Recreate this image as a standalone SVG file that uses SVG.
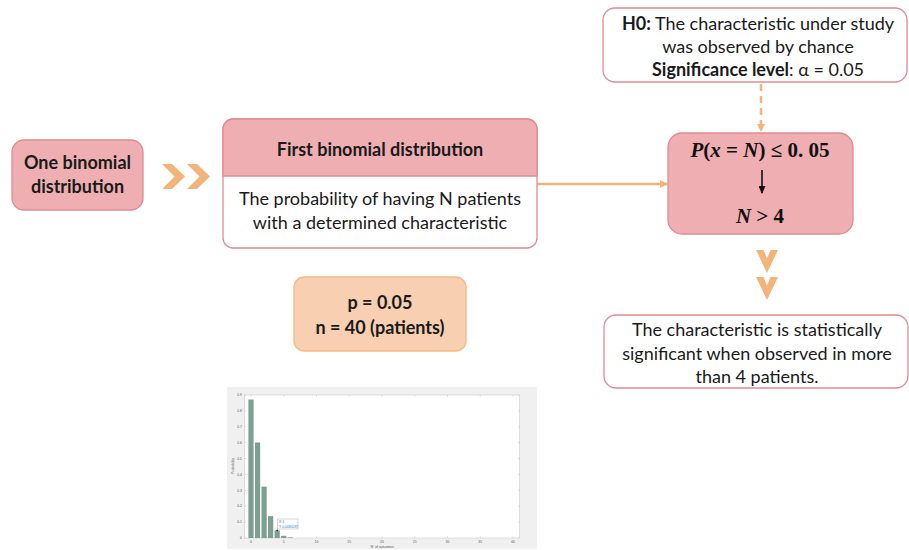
<svg xmlns="http://www.w3.org/2000/svg" width="909" height="550" viewBox="0 0 909 550">
  <defs>
    <style>
      .t { font-family: Lato, "Open Sans", "Liberation Sans", sans-serif; font-size: 18px; fill: #1a1a1a; text-anchor: middle; }
      .b { font-weight: bold; }
      .pink { fill: #EFAEB2; stroke: #E28A91; stroke-width: 1.3; }
      .white { fill: #ffffff; stroke: #E28A91; stroke-width: 1.3; }
      .peach { fill: #F8CFB0; stroke: #F4B984; stroke-width: 1.3; }
      .chev { fill: #F3B47B; }
      .math { font-family: "Liberation Serif", "DejaVu Serif", serif; font-size: 21px; font-weight: bold; fill: #111; text-anchor: middle; }
      .tick { font-family: "Liberation Sans", Arial, sans-serif; font-size: 3.4px; fill: #555; }
      .ax { stroke: #b5b5b5; stroke-width: 0.5; fill: none; }
      .bar { fill: #7D9F91; }
    </style>
    <marker id="arrOrange" markerWidth="8" markerHeight="8" refX="7" refY="4" orient="auto" markerUnits="userSpaceOnUse">
      <path d="M0,0 L8,4 L0,8 Z" fill="#F3B47B"/>
    </marker>
    <marker id="arrBlack" markerWidth="7" markerHeight="8" refX="3.5" refY="7" orient="0" markerUnits="userSpaceOnUse">
      <path d="M0,0 L7,0 L3.5,8 Z" fill="#111"/>
    </marker>
  </defs>

  <rect width="909" height="550" fill="#ffffff"/>

  <!-- connectors -->
  <g id="connectors">
    <line x1="537" y1="184" x2="667" y2="184" stroke="#F3B47B" stroke-width="2.5" marker-end="url(#arrOrange)"/>
    <line x1="761" y1="84" x2="761" y2="131" stroke="#F3B47B" stroke-width="2.5" stroke-dasharray="7 5" marker-end="url(#arrOrange)"/>
    <!-- double chevron between the first two nodes -->
    <polygon class="chev" points="162,164 172,164 185,176.5 172,189 162,189 174.5,176.5"/>
    <polygon class="chev" points="187,164 197,164 210,176.5 197,189 187,189 199.5,176.5"/>
    <!-- double chevron down to the conclusion -->
    <polygon class="chev" points="756,250 763.5,250 767,258.5 770.5,250 778,250 767,273"/>
    <polygon class="chev" points="756,277 763.5,277 767,285.5 770.5,277 778,277 767,300"/>
  </g>

  <g id="node-one-binomial">
    <rect class="pink" x="12" y="140" width="131" height="70" rx="12"/>
    <text class="t b" x="77.5" y="169">One binomial</text>
    <text class="t b" x="77.5" y="193">distribution</text>
  </g>

  <g id="node-first-binomial">
    <rect class="white" x="223" y="119" width="314" height="129" rx="10"/>
    <path class="pink" d="M223,176 V129 A10,10 0 0 1 233,119 H527 A10,10 0 0 1 537,129 V176 Z"/>
    <text class="t b" x="380" y="156">First binomial distribution</text>
    <text class="t" x="380" y="205">The probability of having N patients</text>
    <text class="t" x="380" y="229">with a determined characteristic</text>
  </g>

  <g id="node-h0">
    <rect class="white" x="603" y="8" width="304" height="74" rx="12"/>
    <text class="t" x="758" y="30"><tspan class="b">H0:</tspan> The characteristic under study</text>
    <text class="t" x="758" y="53">was observed by chance</text>
    <text class="t" x="758" y="76"><tspan class="b">Significance level</tspan>: α = 0.05</text>
  </g>

  <g id="node-test">
    <rect class="pink" x="668" y="133" width="185" height="101" rx="14"/>
    <text class="math" x="760" y="157"><tspan font-style="italic">P</tspan>(<tspan font-style="italic">x</tspan> = <tspan font-style="italic">N</tspan>) ≤ 0. 05</text>
    <line x1="762" y1="170" x2="762" y2="193" stroke="#111" stroke-width="1.6" marker-end="url(#arrBlack)"/>
    <text class="math" x="760" y="223"><tspan font-style="italic">N</tspan> &gt; 4</text>
  </g>

  <g id="node-conclusion">
    <rect class="white" x="604" y="315" width="304" height="73" rx="12"/>
    <text class="t" x="757" y="336">The characteristic is statistically</text>
    <text class="t" x="757" y="360">significant when observed in more</text>
    <text class="t" x="757" y="383">than 4 patients.</text>
  </g>

  <g id="node-parameters">
    <rect class="peach" x="294" y="277" width="172" height="74" rx="10"/>
    <text class="t b" x="380" y="309">p = 0.05</text>
    <text class="t b" x="380" y="334">n = 40 (patients)</text>
  </g>

  <!-- bar chart of P(X > k) for n = 40, p = 0.05 -->
  <g id="chart">
    <rect x="227" y="387" width="310" height="162" fill="#f0f0f0"/>
    <rect x="244.5" y="395" width="275" height="143" fill="#ffffff" stroke="#c4c4c4" stroke-width="0.5"/>
    <!-- y ticks (both sides) -->
    <path class="ax" d="M244.5,538h1.5M244.5,522.1h1.5M244.5,506.2h1.5M244.5,490.3h1.5M244.5,474.4h1.5M244.5,458.6h1.5M244.5,442.7h1.5M244.5,426.8h1.5M244.5,410.9h1.5M244.5,395h1.5
      M519.5,538h-1.5M519.5,522.1h-1.5M519.5,506.2h-1.5M519.5,490.3h-1.5M519.5,474.4h-1.5M519.5,458.6h-1.5M519.5,442.7h-1.5M519.5,426.8h-1.5M519.5,410.9h-1.5M519.5,395h-1.5"/>
    <!-- x ticks (both sides) -->
    <path class="ax" d="M251,538v-1.5M283.75,538v-1.5M316.5,538v-1.5M349.25,538v-1.5M382,538v-1.5M414.75,538v-1.5M447.5,538v-1.5M480.25,538v-1.5M513,538v-1.5
      M251,395v1.5M283.75,395v1.5M316.5,395v1.5M349.25,395v1.5M382,395v1.5M414.75,395v1.5M447.5,395v1.5M480.25,395v1.5M513,395v1.5"/>
    <g class="tick" text-anchor="end">
      <text x="242" y="539.2">0</text>
      <text x="242" y="523.3">0.1</text>
      <text x="242" y="507.4">0.2</text>
      <text x="242" y="491.5">0.3</text>
      <text x="242" y="475.6">0.4</text>
      <text x="242" y="459.8">0.5</text>
      <text x="242" y="443.9">0.6</text>
      <text x="242" y="428">0.7</text>
      <text x="242" y="412.1">0.8</text>
      <text x="242" y="396.2">0.9</text>
    </g>
    <g class="tick" text-anchor="middle">
      <text x="251" y="543">0</text>
      <text x="283.75" y="543">5</text>
      <text x="316.5" y="543">10</text>
      <text x="349.25" y="543">15</text>
      <text x="382" y="543">20</text>
      <text x="414.75" y="543">25</text>
      <text x="447.5" y="543">30</text>
      <text x="480.25" y="543">35</text>
      <text x="513" y="543">40</text>
      <text x="382" y="547.5">N° of outcomes</text>
      <text transform="translate(234,466) rotate(-90)">Probability</text>
    </g>
    <g>
      <rect class="bar" x="248.4" y="399.5" width="5.2" height="138.5"/>
      <rect class="bar" x="254.95" y="442.5" width="5.2" height="95.5"/>
      <rect class="bar" x="261.5" y="486.6" width="5.2" height="51.4"/>
      <rect class="bar" x="268.05" y="516.1" width="5.2" height="21.9"/>
      <rect class="bar" x="274.6" y="530.4" width="5.2" height="7.6"/>
      <rect class="bar" x="281.15" y="535.8" width="5.2" height="2.2"/>
      <rect class="bar" x="287.7" y="537.4" width="5.2" height="0.6"/>
    </g>
    <!-- data tip -->
    <circle cx="277.2" cy="530.4" r="0.8" fill="#222"/>
    <rect x="277.5" y="519" width="20.5" height="10" fill="#ffffff" stroke="#9a9a9a" stroke-width="0.4"/>
    <text class="tick" x="279" y="523.2" fill="#333">X <tspan fill="#1f8ad6">4</tspan></text>
    <text class="tick" x="279" y="527.6" fill="#333">Y <tspan fill="#1f8ad6">0.0480287</tspan></text>
  </g>
</svg>
